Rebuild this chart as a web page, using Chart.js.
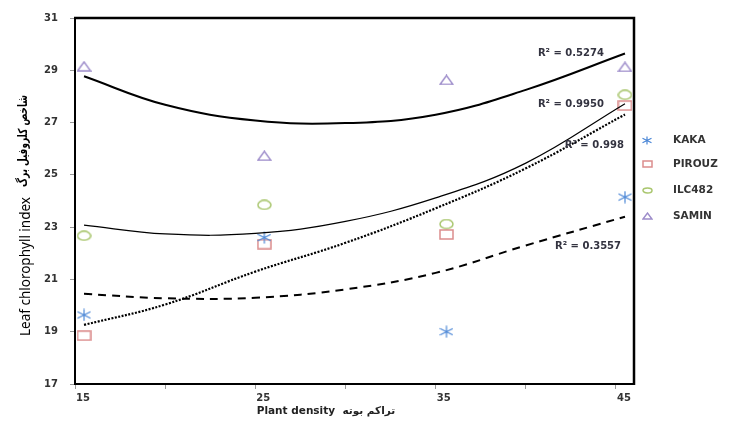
<!DOCTYPE html>
<html><head><meta charset="utf-8">
<script src="https://cdn.jsdelivr.net/npm/chart.js@4.4.0/dist/chart.umd.min.js"></script>
<style>html,body{margin:0;padding:0;background:#fff;}</style>
</head><body>
<canvas id="c" width="741" height="428" style="width:741px;height:428px;display:block"></canvas>
<script>
// ---- data ----
const densities = [15.5, 25.5, 35.6, 45.5];
const KAKA   = [19.64, 22.60, 19.00, 24.15];
const PIROUZ = [18.85, 22.35, 22.72, 27.65];
const ILC482 = [22.67, 23.85, 23.12, 28.06];
const SAMIN  = [29.15, 25.73, 28.63, 29.13];

const trendX       = [15.5, 20, 25, 30, 35, 40, 45.5];
const trendSAMIN   = [28.77, 27.68, 27.08, 26.98, 27.30, 28.25, 29.64];
const trendILC     = [23.08, 22.74, 22.76, 23.22, 24.12, 25.45, 27.72];
const trendPIROUZ  = [19.26, 20.04, 21.30, 22.40, 23.72, 25.25, 27.31];
const trendKAKA    = [20.45, 20.28, 20.30, 20.62, 21.25, 22.30, 23.40];

const xTickLabels = [15, 25, 35, 45];
const xMinorTicks = [20, 30, 40];
const yTickLabels = [17, 19, 21, 23, 25, 27, 29, 31];

const r2Texts = ['R\u00B2 = 0.5274', 'R\u00B2 = 0.9950', 'R\u00B2 = 0.998', 'R\u00B2 = 0.3557'];
const r2X = [42.5, 42.5, 43.8, 43.45];
const r2Y = [29.66, 27.69, 26.14, 22.25];

const legendNames = ['KAKA', 'PIROUZ', 'ILC482', 'SAMIN'];
const xTitle = 'Plant density  \u062A\u0631\u0627\u06A9\u0645 \u0628\u0648\u062A\u0647';
const yTitleLatin = 'Leaf chlorophyll index';
const yTitlePersian = '\u0634\u0627\u062E\u0635 \u06A9\u0644\u0631\u0648\u0641\u06CC\u0644 \u0628\u0631\u06AF';

// ---- marker images ----
const COL = {kaka:'#4a86d6', pirouz:'#db8d8d', ilc:'#a9c66e', samin:'#9d8cca'};
function mk(w, h, fn){const c=document.createElement('canvas');c.width=w;c.height=h;const g=c.getContext('2d');fn(g,w,h);return c;}
function star(col,w,h){return mk(w,h,(g)=>{g.strokeStyle=col;g.lineWidth=1.2;g.beginPath();
  g.moveTo(w/2,0.5);g.lineTo(w/2,h-0.5);
  g.moveTo(0.5,h*0.25);g.lineTo(w-0.5,h*0.75);
  g.moveTo(0.5,h*0.75);g.lineTo(w-0.5,h*0.25);g.stroke();});}
function rect(col,w,h){return mk(w,h,(g)=>{g.strokeStyle=col;g.lineWidth=1.5;g.strokeRect(1,1,w-2,h-2);});}
function ell(col,w,h){return mk(w,h,(g)=>{g.strokeStyle=col;g.lineWidth=1.5;g.beginPath();g.ellipse(w/2,h/2,w/2-1,h/2-1,0,0,Math.PI*2);g.stroke();});}
function tri(col,w,h){return mk(w,h,(g)=>{g.strokeStyle=col;g.lineWidth=1.4;g.beginPath();g.moveTo(1,h-1);g.lineTo(w/2,1);g.lineTo(w-1,h-1);g.closePath();g.stroke();});}

const mKAKA = star(COL.kaka,14,13), mPIR = rect(COL.pirouz,15,11), mILC = ell(COL.ilc,15,11), mSAM = tri(COL.samin,15,11);
const legendMarks = [star(COL.kaka,10,9), rect(COL.pirouz,11,8), ell(COL.ilc,11,7), tri(COL.samin,11,8)];

const pts = (xs, ys) => xs.map((x,i)=>({x:x, y:ys[i]}));

function scat(label, ys, img){
  return {type:'scatter', label, data:pts(densities, ys), pointStyle:img, pointRadius:7, showLine:false, borderColor:'rgba(0,0,0,0)', backgroundColor:'rgba(0,0,0,0)'};
}
function trend(label, ys, width, dash){
  return {type:'scatter', label, data:pts(trendX, ys), showLine:true, borderColor:'#000', borderWidth:width, borderDash:dash, pointRadius:0, tension:0.4, fill:false};
}

const FONT = 'DejaVu Sans';

const decor = {
  id:'decor',
  afterDatasetsDraw(chart){
    const {ctx, chartArea:a, scales:{x, y}} = chart;
    ctx.save();
    // top and right frame
    ctx.strokeStyle = '#000'; ctx.lineWidth = 2.5;
    ctx.beginPath(); ctx.moveTo(a.left-1, a.top); ctx.lineTo(a.right, a.top); ctx.lineTo(a.right, a.bottom+1); ctx.stroke();
    // R2 labels
    ctx.fillStyle = '#333340'; ctx.font = 'bold 10px "'+FONT+'"'; ctx.textAlign='center'; ctx.textBaseline='middle';
    r2Texts.forEach((t,i)=>ctx.fillText(t, x.getPixelForValue(r2X[i]), y.getPixelForValue(r2Y[i])));
    // legend
    const ly = [140, 164, 190, 216];
    legendNames.forEach((n,i)=>{
      const m = legendMarks[i];
      ctx.drawImage(m, Math.round(647 - m.width/2), Math.round(ly[i] - m.height/2));
      ctx.fillStyle = '#333'; ctx.font = 'bold 10.5px "'+FONT+'"'; ctx.textAlign='left'; ctx.textBaseline='middle';
      ctx.fillText(n, 673, ly[i]+0.5);
    });
    // x title
    ctx.fillStyle = '#222'; ctx.font = 'bold 10.5px "'+FONT+'"'; ctx.textAlign='center'; ctx.textBaseline='middle';
    ctx.fillText(xTitle, 326, 411);
    // y title
    ctx.save();
    ctx.translate(26, 0); ctx.rotate(-Math.PI/2);
    ctx.fillStyle = '#000'; ctx.textBaseline='middle';
    ctx.font = '13.5px "Noto Sans"';
    let w = ctx.measureText(yTitleLatin).width, sx = Math.min(1, 140 / w);
    ctx.save(); ctx.scale(sx, 1); ctx.textAlign='left'; ctx.fillText(yTitleLatin, -336 / sx, 0); ctx.restore();
    ctx.font = 'bold 12.5px "'+FONT+'"';
    w = ctx.measureText(yTitlePersian).width; sx = Math.min(1, 92 / w);
    ctx.save(); ctx.scale(sx, 1); ctx.textAlign='right'; ctx.fillText(yTitlePersian, -95 / sx, -2); ctx.restore();
    ctx.restore();
    ctx.restore();
  }
};

new Chart(document.getElementById('c'), {
  type:'scatter',
  data:{datasets:[
    trend('SAMIN trend', trendSAMIN, 2, []),
    trend('ILC482 trend', trendILC, 1.2, []),
    trend('PIROUZ trend', trendPIROUZ, 2.2, [2,1.5]),
    trend('KAKA trend', trendKAKA, 2, [8,6]),
    scat('KAKA', KAKA, mKAKA),
    scat('PIROUZ', PIROUZ, mPIR),
    scat('ILC482', ILC482, mILC),
    scat('SAMIN', SAMIN, mSAM)
  ]},
  options:{
    responsive:false, animation:false, devicePixelRatio:1,
    layout:{padding:{left:0, right:107, top:11, bottom:0}},
    plugins:{legend:{display:false}, tooltip:{enabled:false}},
    scales:{
      x:{type:'linear', min:15, max:46,
        afterBuildTicks:(s)=>{ s.ticks = xTickLabels.concat(xMinorTicks).sort((a,b)=>a-b).map(v=>({value:v})); },
        afterFit:(s)=>{ s.height = 44; },
        ticks:{autoSkip:false, maxRotation:0, padding:3, labelOffset:8, color:'#333',
          font:{family:FONT, size:10, weight:'bold'},
          callback:(v)=> xTickLabels.includes(v) ? String(v) : ''},
        grid:{drawOnChartArea:false, drawTicks:true, tickLength:5, color:'#999'},
        border:{display:true, color:'#000', width:2}
      },
      y:{type:'linear', min:17, max:31,
        afterBuildTicks:(s)=>{ s.ticks = yTickLabels.map(v=>({value:v})); },
        afterFit:(s)=>{ s.width = 75; },
        ticks:{padding:12, color:'#333', font:{family:FONT, size:10, weight:'bold'}},
        grid:{drawOnChartArea:false, drawTicks:true, tickLength:5, color:'#999'},
        border:{display:true, color:'#000', width:2}
      }
    }
  },
  plugins:[decor]
});
</script>
</body></html>
